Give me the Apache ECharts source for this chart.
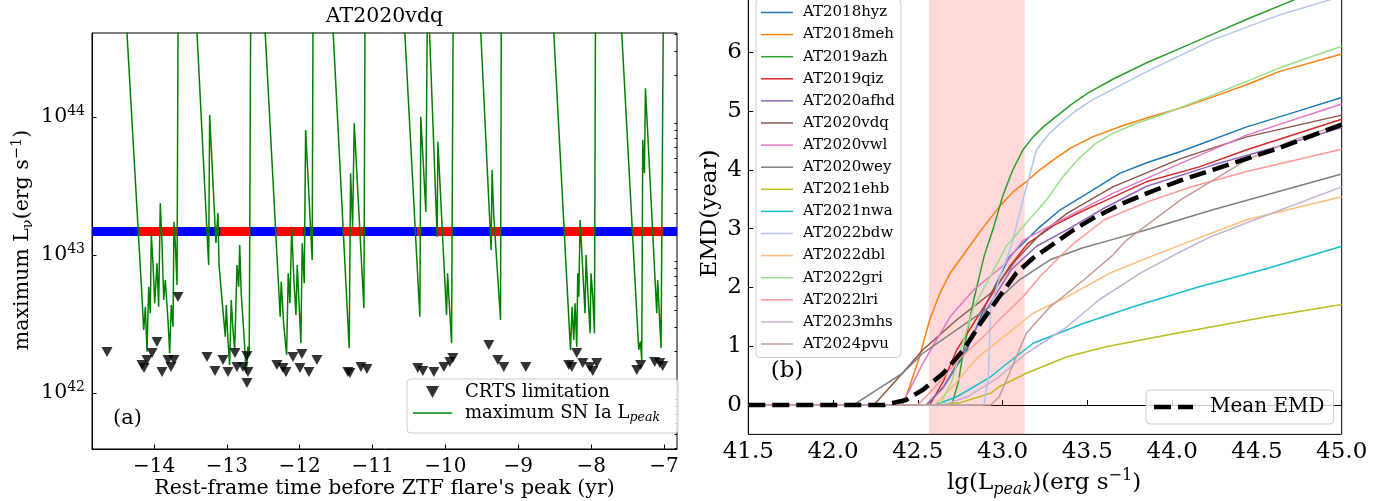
<!DOCTYPE html>
<html><head><meta charset="utf-8">
<script src="https://cdn.jsdelivr.net/npm/echarts@6/dist/echarts.min.js"></script>
<style>html,body{margin:0;padding:0;background:#fff}#c{width:1391px;height:501px}</style>
</head><body><div id="c"></div>
<script>
const FONT = "'DejaVu Serif', serif";
// ---------- Panel (a) data ----------
const leftXTicks = [-14, -13, -12, -11, -10, -9, -8, -7];
const leftYTicks = [42, 43, 44];          // lg of luminance (10^n labels)
const minorMultipliers = [2, 3, 4, 5, 6, 7, 8, 9];
const minorDecades = [41, 42, 43, 44];
const bandLgL = 43.17;                    // CRTS band level (lg L)
const bandRange = [-14.85, -6.82];
const redSegments = [[-14.21,-13.68],[-13.09,-12.68],[-12.32,-11.95],[-11.40,-11.13],[-10.39,-10.35],[-10.10,-9.91],[-9.37,-9.25],[-8.37,-7.95],[-7.43,-7.01]];
// CRTS limitation points: [time (yr), lg L]
const crtsPoints = [
[-14.645,42.297],[-14.165,42.203],[-14.137,42.181],[-14.096,42.239],[-14.027,42.290],[-13.959,42.370],[-13.890,42.152],[-13.808,42.239],[-13.767,42.188],[-13.726,42.239],[-13.671,42.696],
[-13.273,42.261],[-13.163,42.159],[-13.053,42.239],[-12.985,42.152],[-12.889,42.290],[-12.861,42.188],[-12.779,42.188],[-12.724,42.268],[-12.724,42.072],[-12.711,42.152],
[-12.313,42.203],[-12.230,42.181],[-12.189,42.152],[-12.093,42.261],[-11.997,42.181],[-11.970,42.283],[-11.874,42.152],[-11.764,42.239],
[-11.339,42.152],[-11.311,42.145],[-11.160,42.188],[-11.078,42.174],
[-10.379,42.181],[-10.310,42.159],[-10.159,42.152],[-10.022,42.188],[-9.940,42.225],[-9.898,42.254],
[-9.405,42.348],[-9.281,42.239],[-9.199,42.188],[-8.897,42.188],
[-8.307,42.203],[-8.266,42.188],[-8.198,42.290],[-8.115,42.217],[-8.019,42.188],[-7.978,42.159],[-7.923,42.217],
[-7.374,42.167],[-7.320,42.203],[-7.128,42.225],[-7.059,42.217],[-7.018,42.196]];
// maximum SN Ia L_peak curve: [time (yr), lg L]
const snCurve = [
[-14.413,45.0],[-14.165,42.698],[-14.141,42.457],[-14.119,42.625],[-14.096,42.299],[-14.073,42.770],[-14.051,42.578],[-14.037,43.157],[-14.014,42.940],[-13.990,42.650],[-13.959,42.940],[-13.936,42.625],[-13.914,43.375],[-13.890,43.085],[-13.867,42.674],[-13.845,42.819],[-13.808,42.529],[-13.785,42.288],[-13.763,42.638],[-13.739,42.480],[-13.726,43.241],[-13.708,43.085],[-13.684,42.783],[-13.668,45.0],
[-13.447,45.0],[-13.250,42.928],[-13.236,44.014],[-13.150,43.087],[-13.122,43.304],[-13.108,42.928],[-13.022,42.408],[-13.008,42.638],[-12.985,42.384],[-12.962,42.203],[-12.940,42.674],[-12.916,42.457],[-12.893,42.312],[-12.861,42.928],[-12.838,42.770],[-12.824,43.072],[-12.803,42.722],[-12.770,42.457],[-12.734,42.143],[-12.711,42.336],[-12.693,42.275],[-12.671,45.0],
[-12.513,45.0],[-12.268,42.553],[-12.254,42.807],[-12.221,42.505],[-12.180,42.275],[-12.158,42.867],[-12.134,42.650],[-12.111,43.205],[-12.080,42.819],[-12.052,42.565],[-12.034,42.928],[-12.007,42.625],[-11.984,42.360],[-11.966,43.085],[-11.938,42.795],[-11.919,43.906],[-11.829,42.964],[-11.816,45.0],
[-11.578,45.0],[-11.321,42.324],[-11.302,43.592],[-11.274,43.205],[-11.252,43.954],[-11.119,42.614],[-11.102,45.0],
[-10.597,45.0],[-10.351,42.553],[-10.338,44.002],[-10.269,43.314],[-10.246,45.0],[-10.114,43.133],[-10.104,43.821],[-9.985,42.565],[-9.971,42.867],[-9.916,42.360],[-9.892,45.0],
[-9.550,45.0],[-9.373,43.036],[-9.360,43.616],[-9.336,43.278],[-9.244,42.529],[-9.233,45.0],
[-8.552,45.0],[-8.284,42.312],[-8.262,42.625],[-8.239,42.384],[-8.221,42.650],[-8.198,42.336],[-8.184,42.867],[-8.170,42.698],[-8.152,43.254],[-8.084,42.578],[-8.070,43.0],[-8.047,42.746],[-8.015,42.433],[-8.002,42.867],[-7.978,42.698],[-7.955,42.433],[-7.939,45.0],
[-7.620,45.0],[-7.347,42.312],[-7.324,42.372],[-7.306,42.239],[-7.292,43.833],[-7.269,43.592],[-7.255,44.208],[-7.100,42.578],[-7.087,42.819],[-7.041,42.324],[-7.006,45.0]];

// ---------- Panel (b) data ----------
const rightYTicks = [0, 1, 2, 3, 4, 5, 6, 7];
const shadeRange = [42.565, 43.13];
const emdNames = ['AT2018hyz','AT2018meh','AT2019azh','AT2019qiz','AT2020afhd','AT2020vdq','AT2020vwl','AT2020wey','AT2021ehb','AT2021nwa','AT2022bdw','AT2022dbl','AT2022gri','AT2022lri','AT2023mhs','AT2024pvu'];
const hyz = [[41.5,0],[42.55,0],[42.65,0.3],[42.79,0.94],[42.9,1.7],[43.04,2.52],[43.12,2.75],[43.22,3.03],[43.34,3.32],[43.5,3.6],[43.69,3.94],[43.85,4.12],[44.05,4.31],[44.44,4.73],[44.7,4.96],[45,5.23]];
const meh = [[41.5,0],[42.41,0],[42.45,0.3],[42.51,0.82],[42.57,1.45],[42.63,1.9],[42.69,2.24],[42.79,2.64],[42.88,3.0],[42.98,3.37],[43.06,3.62],[43.14,3.80],[43.22,4.0],[43.30,4.17],[43.4,4.37],[43.53,4.56],[43.7,4.74],[43.85,4.88],[44.05,5.05],[44.24,5.24],[44.45,5.46],[44.63,5.67],[45,5.97]];
const azh = [[41.5,0],[42.7,0],[42.74,0.4],[42.77,0.94],[42.83,1.79],[42.89,2.52],[42.95,3.05],[43.0,3.55],[43.06,4.0],[43.12,4.34],[43.18,4.56],[43.24,4.73],[43.3,4.87],[43.4,5.1],[43.5,5.3],[43.65,5.54],[43.85,5.82],[44.05,6.07],[44.25,6.32],[44.44,6.56],[44.72,6.89],[45,7.2]];
const qiz = [[41.5,0],[42.57,0],[42.65,0.4],[42.73,0.94],[42.89,1.67],[43.04,2.35],[43.15,2.75],[43.3,3.05],[43.45,3.27],[43.57,3.43],[43.85,3.8],[44.16,4.05],[44.44,4.34],[45,4.86]];
const afhd = [[41.5,0],[42.55,0],[42.65,0.3],[42.77,0.9],[42.9,1.6],[43.05,2.3],[43.2,2.7],[43.38,2.98],[43.6,3.35],[43.85,3.72],[44.24,4.08],[44.63,4.4],[45,4.72]];
const vdq = [[41.5,0],[42.24,0],[42.375,0.43],[42.53,0.94],[42.73,1.45],[42.93,1.9],[43.08,2.47],[43.22,2.9],[43.38,3.26],[43.65,3.71],[44.05,4.19],[44.44,4.56],[45,4.93]];
const vwl = [[41.5,0],[42.4,0],[42.45,0.25],[42.53,0.71],[42.69,1.5],[42.83,1.96],[43.02,2.41],[43.12,2.8],[43.38,3.2],[43.65,3.6],[44.05,4.11],[44.44,4.59],[45,5.12]];
const wey = [[41.5,0],[42.12,0],[42.26,0.26],[42.41,0.54],[42.53,0.88],[42.73,1.28],[42.93,1.68],[43.1,2.13],[43.28,2.47],[43.47,2.67],[43.63,2.8],[43.85,2.98],[44.24,3.32],[45,3.93]];
const ehb = [[41.5,0],[42.6,0],[42.75,0.04],[42.93,0.2],[42.98,0.31],[43.14,0.54],[43.38,0.82],[43.61,0.99],[43.97,1.19],[44.56,1.5],[45,1.71]];
const nwa = [[41.5,0],[42.6,0],[42.73,0.14],[42.93,0.48],[42.98,0.6],[43.18,1.05],[43.48,1.39],[43.77,1.67],[44.16,2.01],[44.56,2.32],[45,2.7]];
const bdw = [[41.5,0],[42.89,0],[42.915,0.43],[42.93,1.67],[42.99,2.24],[43.05,2.69],[43.12,3.49],[43.2,4.34],[43.27,4.6],[43.34,4.79],[43.43,5.0],[43.53,5.19],[43.85,5.67],[44.24,6.21],[44.63,6.63],[44.93,6.89],[45,6.95]];
const dbl = [[41.5,0],[42.6,0],[42.7,0.3],[42.85,0.8],[42.98,1.1],[43.18,1.56],[43.38,1.84],[43.63,2.24],[43.87,2.52],[44.12,2.8],[44.44,3.15],[45,3.54]];
const gri = [[41.5,0],[42.63,0],[42.7,0.4],[42.77,1.1],[42.83,1.67],[42.93,2.2],[43.02,2.69],[43.14,3.1],[43.26,3.49],[43.36,3.9],[43.46,4.22],[43.55,4.45],[43.65,4.62],[43.8,4.8],[43.95,4.95],[44.24,5.27],[44.63,5.73],[45,6.1]];
const lri = [[41.5,0],[42.5,0],[42.6,0.3],[42.75,0.8],[42.9,1.2],[42.98,1.45],[43.12,1.84],[43.22,2.18],[43.32,2.47],[43.42,2.75],[43.6,3.15],[43.85,3.45],[44.1,3.7],[44.44,3.97],[45,4.35]];
const mhs = [[41.5,0],[42.65,0],[42.8,0.15],[42.98,0.48],[43.14,0.88],[43.38,1.33],[43.57,1.79],[43.81,2.24],[44.03,2.58],[44.22,2.85],[44.44,3.1],[45,3.71]];
const pvu = [[41.5,0],[42.93,0],[42.98,0.14],[43.04,0.54],[43.14,1.22],[43.28,1.67],[43.48,2.13],[43.65,2.55],[43.73,2.8],[44.05,3.49],[44.44,4.17],[44.71,4.5],[45,4.78]];
const meanEMD = [[41.5,0],[42.3,0],[42.43,0.085],[42.53,0.26],[42.65,0.54],[42.77,0.94],[42.87,1.39],[42.98,1.84],[43.08,2.24],[43.18,2.5],[43.3,2.74],[43.42,2.98],[43.53,3.17],[43.7,3.42],[43.85,3.6],[44.05,3.82],[44.24,4.0],[44.45,4.2],[44.63,4.37],[45,4.77]];
const emdCurves = [hyz, meh, azh, qiz, afhd, vdq, vwl, wey, ehb, nwa, bdw, dbl, gri, lri, mhs, pvu];
const emdColors = ['#1f77b4','#ff7f0e','#2ca02c','#d62728','#9467bd','#8c564b','#e377c2','#7f7f7f','#bcbd22','#17becf','#aec7e8','#ffbb78','#98df8a','#ff9896','#c5b0d5','#c49c94'];

// ---------- build ----------
const minorTicks = [];
minorDecades.forEach(d => minorMultipliers.forEach(m => minorTicks.push(d + Math.log10(m))));
const redData = [];
redSegments.forEach(s => { redData.push([s[0], bandLgL], [s[1], bandLgL], [s[1], '-']); });
const minus = v => (v < 0 ? '\u2212' + Math.abs(v) : String(v));
const axisLineStyle = { show: true, lineStyle: { color: '#000', width: 1 } };
const ICON_LINE_R = 'path://M0,0H32V1.5H0Z';
const ICON_LINE_L = 'path://M0,0H39V1.5H0Z';
const ICON_TRI = 'path://M0,0H11L5.5,10Z';
const ICON_DASH = 'path://M0,0H17V4.5H0Z M24,0H39V4.5H24Z';

const emdSeries = emdCurves.map((d, i) => ({
  name: emdNames[i], type: 'line', xAxisIndex: 1, yAxisIndex: 2, data: d,
  symbol: 'none', showSymbol: false,
  lineStyle: { color: emdColors[i], width: 1.5, join: 'round' },
  itemStyle: { color: emdColors[i] }, z: 3, silent: true
}));

const chart = echarts.init(document.getElementById('c'), null, { renderer: 'canvas' });
chart.setOption({
  animation: false,
  backgroundColor: '#fff',
  textStyle: { fontFamily: FONT },
  grid: [
    { left: 92, right: 714, top: 33, bottom: 52, show: true, borderColor: '#000', borderWidth: 1, backgroundColor: 'transparent', outerBoundsMode: 'none', containLabel: false },
    { left: 748.3, right: 49.3, top: -6.6, bottom: 66.6, show: true, borderColor: '#000', borderWidth: 1, backgroundColor: 'transparent', outerBoundsMode: 'none', containLabel: false }
  ],
  xAxis: [
    { type: 'value', gridIndex: 0, min: -14.851, max: -6.822, axisLine: axisLineStyle, splitLine: { show: false },
      axisTick: { show: true, inside: true, length: 4.5, customValues: leftXTicks, lineStyle: { color: '#000' } },
      axisLabel: { customValues: leftXTicks, formatter: minus, fontFamily: FONT, fontSize: 20, color: '#000', margin: 7.5 } },
    { type: 'value', gridIndex: 1, min: 41.5, max: 45, interval: 0.5, axisLine: axisLineStyle, splitLine: { show: false },
      axisTick: { show: true, inside: true, length: 5, lineStyle: { color: '#000' } },
      axisLabel: { formatter: v => v.toFixed(1), fontFamily: FONT, fontSize: 23, color: '#000', margin: 6 } }
  ],
  yAxis: [
    { type: 'value', gridIndex: 0, min: 41.594, max: 44.609, axisLine: axisLineStyle, splitLine: { show: false },
      axisTick: { show: true, inside: true, length: 4.5, customValues: leftYTicks, lineStyle: { color: '#000' } },
      axisLabel: { customValues: leftYTicks, margin: 7, color: '#000',
        formatter: v => '{b|10}{s|' + Math.round(v) + '}',
        rich: { b: { fontFamily: FONT, fontSize: 20.5, lineHeight: 26, color: '#000' },
                s: { fontFamily: FONT, fontSize: 14, lineHeight: 13, verticalAlign: 'top', color: '#000' } } } },
    { type: 'value', gridIndex: 0, min: 41.594, max: 44.609, axisLine: { show: false }, splitLine: { show: false },
      axisTick: { show: true, inside: true, length: 2.5, customValues: minorTicks, lineStyle: { color: '#000' } },
      axisLabel: { show: false, customValues: minorTicks } },
    { type: 'value', gridIndex: 1, min: -0.5, max: 7, axisLine: axisLineStyle, splitLine: { show: false },
      axisTick: { show: true, inside: true, length: 5, customValues: rightYTicks, lineStyle: { color: '#000' } },
      axisLabel: { customValues: rightYTicks, showMaxLabel: true, fontFamily: FONT, fontSize: 23, color: '#000', margin: 6.5 } }
  ],
  legend: [
    { data: [{ name: 'CRTS limitation', icon: ICON_TRI }, { name: 'maximum SN Ia L_peak', icon: ICON_LINE_L }],
      orient: 'vertical', left: 407, top: 379,
      padding: [4, 18, 9, 6], itemWidth: 39, itemHeight: 12, itemGap: 3, selectedMode: false,
      backgroundColor: 'rgba(255,255,255,0.8)', borderColor: '#cccccc', borderWidth: 1, borderRadius: 4,
      formatter: n => n === 'CRTS limitation' ? '{n|CRTS limitation}' : '{n|maximum SN Ia L}{sub|peak}',
      textStyle: { fontFamily: FONT, fontSize: 18, color: '#000', padding: [0, 0, 0, 8],
        rich: { n: { fontFamily: FONT, fontSize: 18, lineHeight: 22, color: '#000' },
                sub: { fontFamily: FONT, fontSize: 12.6, fontStyle: 'italic', lineHeight: 10, verticalAlign: 'bottom', color: '#000' } } } },
    { data: emdNames.map(n => ({ name: n, icon: ICON_LINE_R })), orient: 'vertical', left: 756, top: -1, padding: [6, 6, 6, 5],
      itemWidth: 32, itemHeight: 14, itemGap: 7.1, selectedMode: false,
      backgroundColor: 'rgba(255,255,255,0.8)', borderColor: '#cccccc', borderWidth: 1, borderRadius: 4,
      textStyle: { fontFamily: FONT, fontSize: 15, lineHeight: 14, color: '#000', padding: [0, 0, 0, 5] } },
    { data: [{ name: 'Mean EMD', icon: ICON_DASH }], orient: 'vertical', left: 1146, top: 390, padding: [6, 9, 6, 8],
      itemWidth: 39, itemHeight: 14, selectedMode: false,
      backgroundColor: 'rgba(255,255,255,0.8)', borderColor: '#cccccc', borderWidth: 1, borderRadius: 4,
      textStyle: { fontFamily: FONT, fontSize: 20, lineHeight: 22, color: '#000', padding: [0, 0, 0, 12] } }
  ],
  series: [
    { name: 'band', type: 'line', xAxisIndex: 0, yAxisIndex: 0, data: [[bandRange[0], bandLgL], [bandRange[1], bandLgL]],
      symbol: 'none', lineStyle: { color: '#0000ff', width: 9, cap: 'butt' }, z: 1, silent: true },
    { name: 'bandRed', type: 'line', xAxisIndex: 0, yAxisIndex: 0, data: redData, connectNulls: false,
      symbol: 'none', lineStyle: { color: '#ff0000', width: 9, cap: 'butt' }, z: 2, silent: true },
    { name: 'maximum SN Ia L_peak', type: 'line', xAxisIndex: 0, yAxisIndex: 0, data: snCurve, clip: true,
      symbol: 'none', showSymbol: false, lineStyle: { color: '#008000', width: 1.5 }, itemStyle: { color: '#008000' }, z: 3, silent: true },
    { name: 'CRTS limitation', type: 'scatter', xAxisIndex: 0, yAxisIndex: 0, data: crtsPoints,
      symbol: 'triangle', symbolRotate: 180, symbolSize: [11, 10], itemStyle: { color: '#000' }, z: 4, silent: true },
    { name: 'shade', type: 'line', xAxisIndex: 1, yAxisIndex: 2, data: [], silent: true, z: 0,
      markArea: { silent: true, itemStyle: { color: 'rgba(255,0,0,0.15)' }, data: [[{ xAxis: shadeRange[0] }, { xAxis: shadeRange[1] }]] } },
    ...emdSeries,
    { name: 'Mean EMD', type: 'line', xAxisIndex: 1, yAxisIndex: 2, data: meanEMD,
      symbol: 'none', showSymbol: false,
      lineStyle: { color: '#000', width: 4.5, type: [17, 7], cap: 'butt', join: 'round' },
      itemStyle: { color: '#000' }, z: 5, silent: true }
  ],
  graphic: [
    { type: 'text', x: 384.5, y: 17, style: { text: 'AT2020vdq', fontFamily: FONT, fontSize: 20.5, fill: '#000', align: 'center', verticalAlign: 'middle' } },
    { type: 'text', x: 127.5, y: 419, style: { text: '(a)', fontFamily: FONT, fontSize: 21, fill: '#000', align: 'center', verticalAlign: 'middle' } },
    { type: 'text', x: 787, y: 371, z: 100, style: { text: '(b)', fontFamily: FONT, fontSize: 23, fill: '#000', align: 'center', verticalAlign: 'middle' } },
    { type: 'text', x: 384.5, y: 489, style: { text: "Rest-frame time before ZTF flare's peak (yr)", fontFamily: FONT, fontSize: 20.5, fill: '#000', align: 'center', verticalAlign: 'middle' } },
    { type: 'text', x: 23, y: 240, rotation: Math.PI / 2,
      style: { text: '{t|maximum L}{sub|\u03bd}{t|(erg s}{sup|\u22121}{t|)}', fill: '#000', align: 'center', verticalAlign: 'middle',
        rich: { t: { fontFamily: FONT, fontSize: 20.5, lineHeight: 26 },
                sub: { fontFamily: FONT, fontSize: 14.5, lineHeight: 12, verticalAlign: 'bottom' },
                sup: { fontFamily: FONT, fontSize: 14.5, lineHeight: 12, verticalAlign: 'top' } } } },
    { type: 'text', x: 710, y: 213.5, rotation: Math.PI / 2,
      style: { text: 'EMD(year)', fontFamily: FONT, fontSize: 23, fill: '#000', align: 'center', verticalAlign: 'middle' } },
    { type: 'text', x: 1044, y: 483,
      style: { text: '{t|lg(L}{sub|peak}{t|)(erg s}{sup|\u22121}{t|)}', fill: '#000', align: 'center', verticalAlign: 'middle',
        rich: { t: { fontFamily: FONT, fontSize: 23, lineHeight: 30 },
                sub: { fontFamily: FONT, fontSize: 16, fontStyle: 'italic', lineHeight: 13, verticalAlign: 'bottom' },
                sup: { fontFamily: FONT, fontSize: 16, lineHeight: 13, verticalAlign: 'top' } } } }
  ]
});
</script></body></html>
